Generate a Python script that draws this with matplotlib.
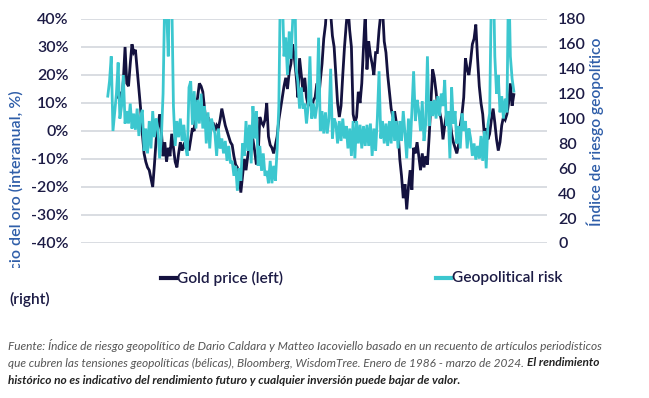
import numpy as np
import matplotlib
matplotlib.use("Agg")
import matplotlib.pyplot as plt
from matplotlib.lines import Line2D
from matplotlib.patches import Rectangle

# ---------------- data (bi-monthly readings) ----------------
gold_start = 1986.0
gold_yoy = [
    12, 14, 10, 18, 30, 17,        # 1986
    16, 24, 31, 28, 29, 22,        # 1987
    15, 8, -1, -8, -11, -13,       # 1988
    -14, -17, -20, -12, -3, 1,     # 1989
    6, 0, -9, -4, -11, -6,         # 1990
    -9, -1, -6, -11, -13, -8,      # 1991
    -4, -7, -5, -6, -4, -7,        # 1992
    -3, 1, 0, 9, 12, 17,           # 1993
    16, 14, 8, 2, 5, -1,           # 1994
    1, 3, 0, 2, 1, 4,              # 1995
    8, 5, 2, 0, -2, -4,            # 1996
    -5, -9, -12, -13, -16, -22,    # 1997
    -16, -10, -14, -9, -5, -2,     # 1998
    -3, -7, -12, -9, 5, 3,         # 1999
    2, 4, 10, -2, -5, -6,          # 2000
    -8, -5, -2, 4, 8, 12,          # 2001
    16, 19, 15, 21, 24, 31,        # 2002
    26, 20, 12, 26, 20, 14,        # 2003
    19, 12, 9, 11, 8, 11,          # 2004
    12, 17, 11, 18, 24, 33,        # 2005
    38, 48, 50, 42, 34, 30,        # 2006
    20, 10, 5, 9, 20, 30,          # 2007
    38, 45, 36, 30, 6, 3,          # 2008
    5, 14, 10, 17, 30, 42,         # 2009
    22, 32, 27, 24, 20, 28,        # 2010
    28, 36, 42, 44, 32, 28,        # 2011
    20, 14, 8, 5, 7, 3,            # 2012
    0, -10, -16, -24, -19, -28,    # 2013
    -20, -14, -21, -6, -8, -4,     # 2014
    -9, -14, -8, -13, -9, -12,     # 2015
    -2, 10, 22, 19, 14, 8,         # 2016
    7, 4, -3, 2, 6, 3,             # 2017
    5, -1, -4, -6, -8, -5,         # 2018
    2, 6, 12, 26, 22, 20,          # 2019
    25, 31, 33, 38, 26, 16,        # 2020
    10, 6, -2, 1, -3, -1,          # 2021
    4, 8, 3, -3, -7, -4,           # 2022
    2, 5, 4, 6, 10, 17,            # 2023
    9, 13,                         # 2024
]

geo_start = 1985.0
geo_risk = [
    118, 130, 150, 90, 105, 120,   # 1985
    145, 100, 110, 135, 96, 106,   # 1986
    96, 112, 92, 104, 91, 108,     # 1987
    86, 102, 107, 74, 92, 72,      # 1988
    98, 76, 106, 85, 100, 92,      # 1989
    68, 84, 120, 200, 190, 150,    # 1990
    240, 200, 110, 78, 98, 85,     # 1991
    100, 82, 95, 78, 70, 125,      # 1992
    130, 95, 122, 92, 115, 96,     # 1993
    120, 92, 110, 80, 105, 76,     # 1994
    100, 94, 88, 70, 92, 76,       # 1995
    84, 72, 82, 66, 78, 64,        # 1996
    66, 54, 62, 42, 60, 50,        # 1997
    80, 70, 98, 74, 95, 64,        # 1998
    110, 84, 106, 62, 78, 58,      # 1999
    72, 54, 58, 48, 66, 48,        # 2000
    62, 50, 75, 110, 220, 200,     # 2001
    150, 165, 135, 170, 148, 178,  # 2002
    230, 140, 130, 108, 125, 108,  # 2003
    112, 96, 110, 150, 100, 112,   # 2004
    100, 110, 165, 90, 106, 88,    # 2005
    105, 88, 100, 140, 84, 100,    # 2006
    96, 80, 98, 82, 100, 84,       # 2007
    94, 76, 92, 70, 98, 68,        # 2008
    98, 80, 95, 76, 94, 78,        # 2009
    95, 78, 96, 70, 92, 74,        # 2010
    100, 138, 84, 98, 80, 96,      # 2011
    78, 98, 80, 106, 82, 98,       # 2012
    76, 98, 82, 106, 88, 68,       # 2013
    100, 76, 106, 138, 98, 115,    # 2014
    106, 90, 114, 82, 96, 150,     # 2015
    94, 114, 102, 115, 100, 118,   # 2016
    102, 120, 110, 131, 94, 106,   # 2017
    68, 125, 96, 106, 80, 94,      # 2018
    76, 104, 90, 98, 76, 92,       # 2019
    84, 70, 80, 67, 78, 68,        # 2020
    86, 66, 90, 60, 95, 104,       # 2021
    200, 230, 150, 120, 135, 105,  # 2022
    118, 100, 116, 105, 220, 150,  # 2023
    132, 122,                      # 2024
]

left_ticks = [-40, -30, -20, -10, 0, 10, 20, 30, 40]
left_ticklabels = ["-40%", "-30%", "-20%", "-10%", "0%", "10%", "20%", "30%", "40%"]
right_ticks = [0, 20, 40, 60, 80, 100, 120, 140, 160, 180]
right_ticklabels = ["0", "20", "40", "60", "80", "100", "120", "140", "160", "180"]

series_names = ["Gold price (left)", "Geopolitical risk"]
series_suffix = "(right)"
left_label = "Precio del oro (interanual, %)"
right_label = "Índice de riesgo geopolítico"

note_1 = ("Fuente: Índice de riesgo geopolítico de Dario Caldara y Matteo Iacoviello basado "
          "en un recuento de artículos periodísticos")
note_2a = ("que cubren las tensiones geopolíticas (bélicas), Bloomberg, WisdomTree. "
           "Enero de 1986 - marzo de 2024. ")
note_2b = "El rendimiento"
note_3 = ("histórico no es indicativo del rendimiento futuro y cualquier inversión "
          "puede bajar de valor.")

# ---------------- style ----------------
NAVY = "#14123f"
TURQ = "#3cc7cf"
TICK = "#1c1b45"
BLUE = "#2f5ea9"
GRID = "#d3d7dd"
NOTE = "#555555"
FONT = "Lato"

W, H = 649, 398
fig = plt.figure(figsize=(W / 100, H / 100), dpi=100)

def fx(px):
    return px / W

def fy(py):
    return 1 - py / H

ax = fig.add_axes([fx(81), fy(243), fx(547) - fx(81), fy(19) - fy(243)])
ax2 = ax.twinx()

gold_t = gold_start + (np.arange(len(gold_yoy)) + 0.5) / 6
geo_t = geo_start + (np.arange(len(geo_risk)) + 0.5) / 6

ax.plot(gold_t, gold_yoy, color=NAVY, lw=2.0, solid_joinstyle="miter", zorder=3)
ax2.plot(geo_t, geo_risk, color=TURQ, lw=2.0, solid_joinstyle="miter", zorder=3)

ax.set_xlim(1982.5, 2027.45)
ax.set_ylim(-40, 40)
ax2.set_ylim(0, 180)

ax.set_yticks(left_ticks)
ax.set_yticklabels(left_ticklabels)
ax2.set_yticks(right_ticks)
ax2.set_yticklabels(right_ticklabels)
ax.set_xticks([])

for a in (ax, ax2):
    for s in a.spines.values():
        s.set_visible(False)
ax.grid(axis="y", color=GRID, lw=1.2)
ax.set_axisbelow(True)
ax.tick_params(axis="y", length=0, pad=9, labelsize=11.5, labelcolor=TICK)
ax2.tick_params(axis="y", length=0, pad=8, labelsize=11.5, labelcolor=TICK)
for lab in ax.get_yticklabels() + ax2.get_yticklabels():
    lab.set_fontfamily(FONT)
    lab.set_fontweight("semibold")

# axis titles
fig.text(fx(16), fy(90), left_label, rotation=90, ha="center", va="top",
         color=BLUE, fontsize=11.5, fontfamily=FONT, fontweight="semibold", zorder=2)
fig.text(fx(595), fy(132), right_label, rotation=90, ha="center", va="center",
         color=BLUE, fontsize=11.2, fontfamily=FONT, fontweight="semibold", zorder=2)

# legend block (white background)
fig.add_artist(Rectangle((0, 0), 1, fy(268), transform=fig.transFigure,
                         facecolor="white", edgecolor="none", zorder=3))
ly = fy(278)
fig.add_artist(Line2D([fx(161), fx(176)], [ly, ly], transform=fig.transFigure,
                      color=NAVY, lw=3, zorder=4))
fig.text(fx(177), ly, series_names[0], ha="left", va="center", color=TICK,
         fontsize=11.2, fontfamily=FONT, fontweight="semibold", zorder=4)
fig.add_artist(Line2D([fx(436), fx(451)], [ly, ly], transform=fig.transFigure,
                      color=TURQ, lw=3, zorder=4))
fig.text(fx(452), ly, series_names[1], ha="left", va="center", color=TICK,
         fontsize=11.2, fontfamily=FONT, fontweight="semibold", zorder=4)
fig.text(fx(9), fy(299), series_suffix, ha="left", va="center", color=TICK,
         fontsize=11.2, fontfamily=FONT, fontweight="semibold", zorder=4)

# footnote
nkw = dict(ha="left", va="center", fontsize=8.6, fontfamily=FONT, style="italic", zorder=4)
fig.text(fx(8), fy(345), note_1, color=NOTE, **nkw)
t2 = fig.text(fx(8), fy(363), note_2a, color=NOTE, **nkw)
fig.canvas.draw()
bb = t2.get_window_extent(renderer=fig.canvas.get_renderer())
fig.text(bb.x1 / fig.bbox.width, fy(363), note_2b, color="#222222",
         fontweight="bold", **nkw)
fig.text(fx(8), fy(381), note_3, color="#222222", fontweight="bold", **nkw)

fig.savefig("out.png", dpi=100, facecolor="white")
